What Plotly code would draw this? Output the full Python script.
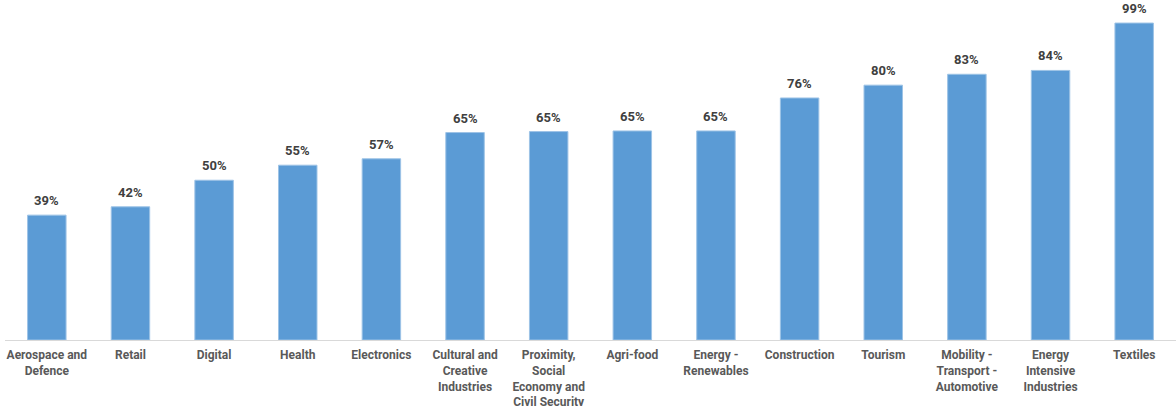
import plotly.graph_objects as go

categories = [
    "Aerospace and<br>Defence", "Retail", "Digital", "Health", "Electronics",
    "Cultural and<br>Creative<br>Industries",
    "Proximity,<br>Social<br>Economy and<br>Civil Security",
    "Agri-food", "Energy -<br>Renewables", "Construction", "Tourism",
    "Mobility -<br>Transport -<br>Automotive", "Energy<br>Intensive<br>Industries",
    "Textiles",
]
values = [39.0, 41.6, 49.9, 54.6, 56.6, 64.8, 65.1, 65.3, 65.3, 75.6, 79.6, 83.0, 84.2, 99.0]
labels = [f"{round(v):.0f}%" for v in values]

BAR = "#5B9BD5"
FONT = "Roboto"

fig = go.Figure(
    go.Bar(
        x=categories, y=values,
        marker=dict(color=BAR, line=dict(color="#9DC3E6", width=1)),
        width=0.46,
        hoverinfo="skip",
    )
)

for c, v, t in zip(categories, values, labels):
    fig.add_annotation(
        x=c, y=v, text=f"<b>{t}</b>", showarrow=False,
        yanchor="bottom", yshift=5,
        font=dict(family=FONT, size=13, color="#404040"),
    )

fig.update_layout(
    width=1176, height=406,
    margin=dict(l=5, r=0, t=0, b=66),
    paper_bgcolor="white", plot_bgcolor="white",
    showlegend=False,
    font=dict(family=FONT),
)
fig.update_xaxes(
    showline=True, linecolor="#D9D9D9", linewidth=1,
    ticks="", showgrid=False, automargin=False,
    ticklabelstandoff=4,
    tickfont=dict(family=FONT, size=12, color="#595959", weight="bold"),
    range=[-0.5, 13.5],
)
fig.update_yaxes(
    range=[0, 106.2], visible=False, showgrid=False, zeroline=False,
    automargin=False,
)

fig.write_html(
    "out.html",
    config={"displayModeBar": False},
    post_script="document.body.style.margin='0px';",
)
